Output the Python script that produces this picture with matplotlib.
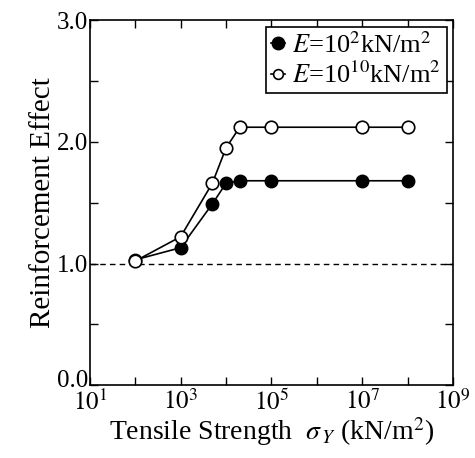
import matplotlib
matplotlib.use("Agg")
import matplotlib.pyplot as plt
import matplotlib.transforms as mtrans
import numpy as np

plt.rcParams['font.family'] = ['Liberation Serif', 'DejaVu Serif']
plt.rcParams['mathtext.fontset'] = 'stix'

# tensile strength (kN/m2) and reinforcement effect
strength = [1e2, 1e3, 5e3, 1e4, 2e4, 1e5, 1e7, 1e8]
effect_e2 = [1.03, 1.13, 1.49, 1.66, 1.68, 1.68, 1.68, 1.68]
effect_e10 = [1.02, 1.22, 1.66, 1.95, 2.12, 2.12, 2.12, 2.12]

xtick_vals = [10.0 ** k for k in range(1, 10)]
xtick_labels = [r'$10^{%d}$' % k if k % 2 == 1 else '' for k in range(1, 10)]
ytick_vals = [0.0, 0.5, 1.0, 1.5, 2.0, 2.5, 3.0]
ytick_labels = ['0.0', '', '1.0', '', '2.0', '', '3.0']

fig = plt.figure(figsize=(4.75, 4.58), dpi=100)
ax = fig.add_axes([0.189, 0.159, 0.765, 0.797])

ax.axhline(1.0, color='k', lw=1.0, ls=(0, (4, 3)), zorder=1)
ax.plot(strength, effect_e2, '-o', color='k', mfc='k', mec='k',
        ms=9, lw=1.2, label=r'$E$=10$^2$kN/m$^2$', zorder=3)
ax.plot(strength, effect_e10, '-o', color='k', mfc='white', mec='k',
        ms=9, mew=1.2, lw=1.2, label=r'$E$=10$^{10}$kN/m$^2$', zorder=4)

ax.set_xscale('log')
ax.set_xlim(10, 1e9)
ax.set_ylim(0, 3.0)
ax.set_xticks(xtick_vals)
ax.set_xticklabels(xtick_labels)
ax.xaxis.set_minor_locator(matplotlib.ticker.NullLocator())
ax.set_yticks(ytick_vals)
ax.set_yticklabels(ytick_labels)
ax.tick_params(direction='in', top=True, right=True, length=6, width=1.0,
               labelsize=18, pad=1)
ax.tick_params(axis='x', pad=3)
for s in ax.spines.values():
    s.set_linewidth(1.2)

# lift "0.0" a bit so it does not run into the 10^1 label
zero_lbl = ax.get_yticklabels()[0]
zero_lbl.set_transform(zero_lbl.get_transform() +
                       mtrans.ScaledTranslation(0, 5 / 72, fig.dpi_scale_trans))

ax.set_xlabel(r'Tensile Strength  $\sigma_{\,Y}$ (kN/m$^2$)', fontsize=20, labelpad=0)
ax.set_ylabel('Reinforcement Effect', fontsize=21, labelpad=1)

leg = ax.legend(loc='upper right', fontsize=19, frameon=True, fancybox=False,
                edgecolor='k', framealpha=1, handlelength=0.5, handletextpad=0.3,
                borderpad=0.2, labelspacing=0.15, borderaxespad=0.25)
leg.legend_handles[1].set_markersize(7)
leg.get_frame().set_linewidth(1.2)

fig.savefig('out.png', dpi=100)
